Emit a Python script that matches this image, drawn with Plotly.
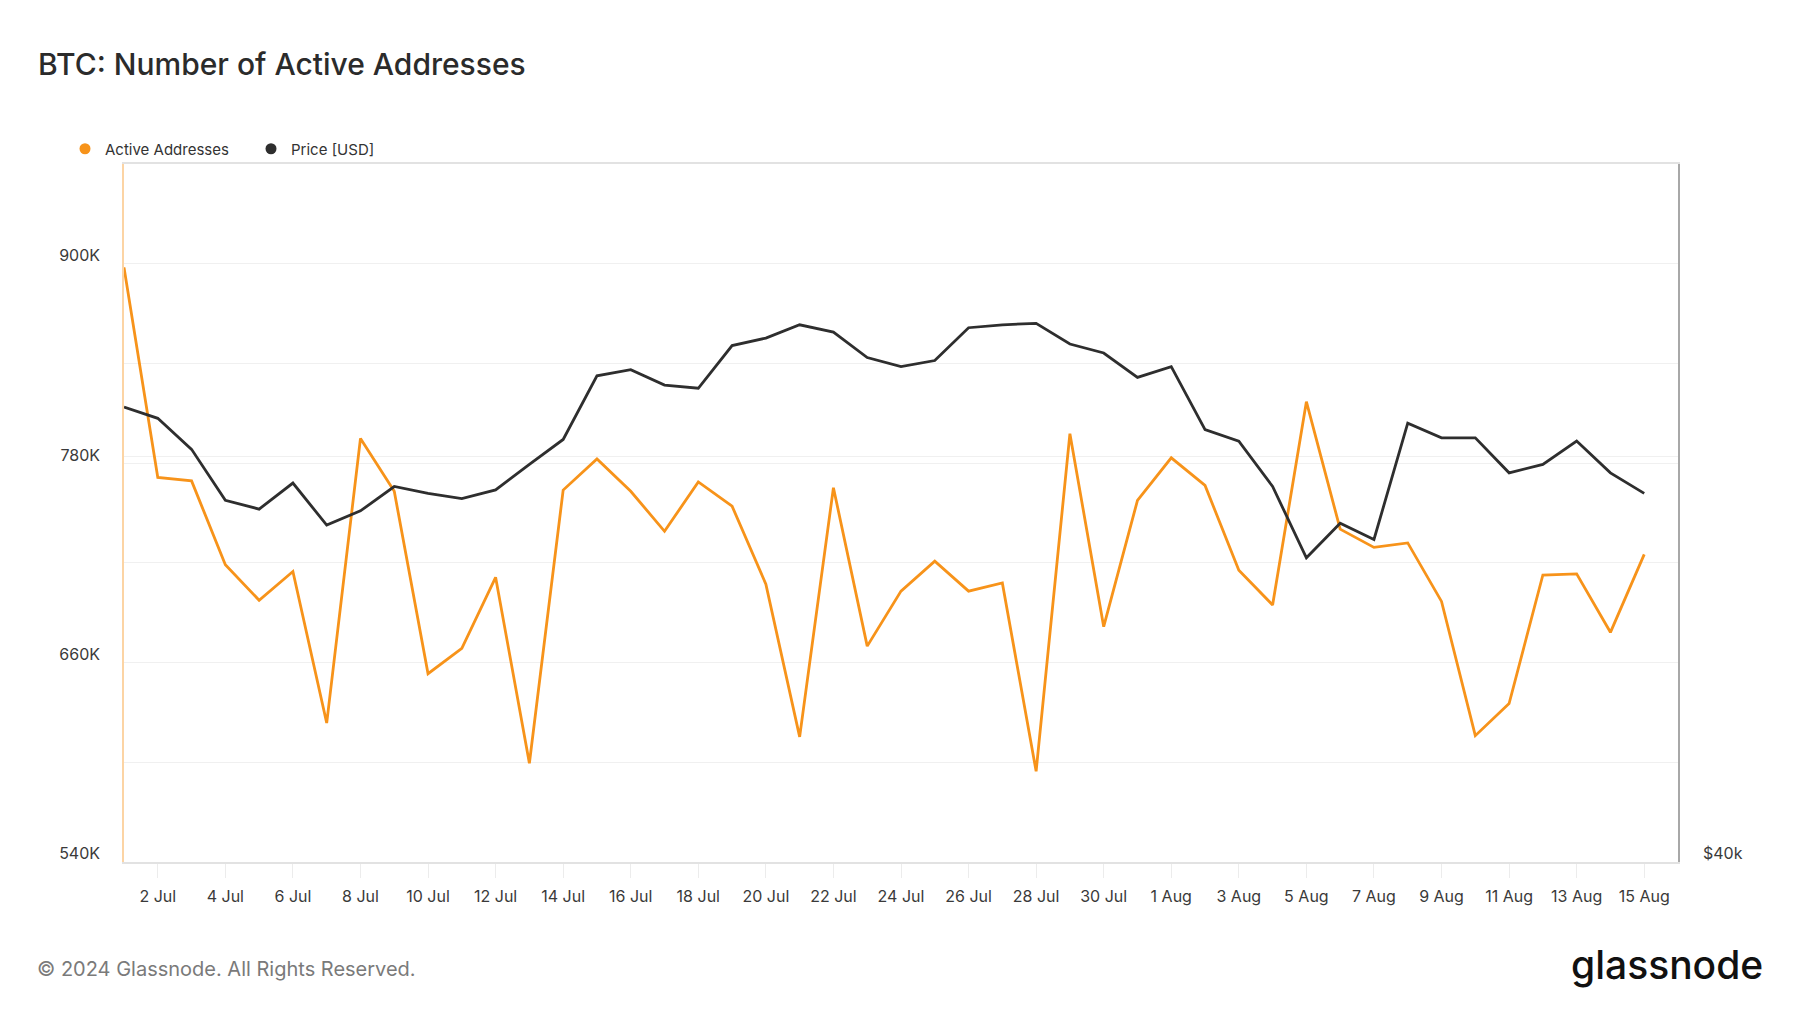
import plotly.graph_objects as go
import pandas as pd

dates = pd.date_range("2024-07-01", "2024-08-15", freq="D")

active_addresses = [
    897800, 771400, 769300, 718900, 697500, 714800, 623600, 794900, 763100, 653300,
    668500, 711300, 599400, 763800, 782500, 763100, 739000, 768700, 754100, 707200,
    615300, 765200, 669900, 703000, 721000, 703000, 707900, 594600, 797700, 681600,
    757600, 783200, 766600, 715500, 694700, 817000, 740300, 729300, 732000, 696800,
    616000, 635300, 712700, 713400, 678200, 725100,
]

price_usd = [
    63000, 62300, 60400, 57400, 56900, 58400, 56000, 56800, 58200, 57800,
    57500, 58000, 59500, 61000, 65000, 65400, 64400, 64200, 67000, 67500,
    68400, 67900, 66200, 65600, 66000, 68200, 68400, 68500, 67100, 66500,
    64900, 65600, 61600, 60900, 58200, 54200, 56100, 55200, 62000, 61100,
    61100, 59000, 59500, 60900, 59000, 57800,
]

left_tickvals = [540000, 600000, 660000, 720000, 780000, 840000, 900000]
left_ticktext = ["540K", "", "660K", "", "780K", "", "900K"]
right_tickvals = [40000, 60000]
right_ticktext = ["$40k", ""]

ORANGE = "#F7931A"
BLACK = "#2E2E2E"
FONT = "Inter"

fig = go.Figure()
fig.add_trace(go.Scatter(x=dates, y=active_addresses, mode="lines",
                         line=dict(color=ORANGE, width=2.8), yaxis="y",
                         showlegend=False, name="Active Addresses"))
fig.add_trace(go.Scatter(x=dates, y=price_usd, mode="lines",
                         line=dict(color=BLACK, width=2.8), yaxis="y2",
                         showlegend=False, name="Price [USD]"))
# legend entries (dots)
fig.add_trace(go.Scatter(x=[None], y=[None], mode="markers", name="Active Addresses",
                         marker=dict(color=ORANGE, size=11), showlegend=True))
fig.add_trace(go.Scatter(x=[None], y=[None], mode="markers", name="Price [USD]",
                         marker=dict(color=BLACK, size=11), showlegend=True))

fig.update_layout(
    width=1800, height=1013,
    margin=dict(l=124, r=122, t=164, b=151, autoexpand=False),
    paper_bgcolor="white", plot_bgcolor="white",
    font=dict(family=FONT, color="#3a3a3a", size=16),
    title=dict(text="BTC: Number of Active Addresses", x=38/1800, xanchor="left",
               y=1-64/1013, yanchor="middle", xref="container", yref="container",
               font=dict(family=FONT, size=30, color="#2b2b2b", weight=500)),
    legend=dict(orientation="h", xref="container", yref="container",
                x=65/1800, xanchor="left", y=1-149/1013, yanchor="middle",
                bgcolor="rgba(0,0,0,0)",
                font=dict(family=FONT, size=15, color="#333333"),
                entrywidth=141, entrywidthmode="pixels", itemwidth=30),
    xaxis=dict(type="date", range=["2024-07-01", "2024-08-16"],
               tick0="2024-07-02", dtick=2*86400000, tickformat="%-d %b",
               showgrid=False, showline=True, linecolor="#e2e2e2", linewidth=1.5,
               mirror=True, ticks="outside", ticklen=14, tickcolor="#ececec",
               tickwidth=1, ticklabelstandoff=5,
               tickfont=dict(family=FONT, size=16, color="#3a3a3a"), zeroline=False),
    yaxis=dict(range=[540000, 960000], tickvals=left_tickvals, ticktext=left_ticktext,
               showgrid=True, gridcolor="#f0f0f0", gridwidth=1,
               showline=True, linecolor="#FCD4A4", linewidth=1.5,
               ticks="", ticklabelposition="outside top", ticklabelstandoff=19,
               ticklabelshift=3,
               tickfont=dict(family=FONT, size=16, color="#3a3a3a"), zeroline=False),
    yaxis2=dict(type="log", range=[4.60206, 4.9048], overlaying="y", side="right",
                tickvals=right_tickvals, ticktext=right_ticktext,
                showgrid=True, gridcolor="#f0f0f0", gridwidth=1,
                showline=True, linecolor="#a8a8a8", linewidth=1.5,
                ticks="", ticklabelposition="outside top", ticklabelstandoff=20,
                ticklabelshift=3,
                tickfont=dict(family=FONT, size=16, color="#3a3a3a"), zeroline=False),
)

fig.add_annotation(text="© 2024 Glassnode. All Rights Reserved.", xref="paper", yref="paper",
                   x=(35-124)/1554, y=-(969-862)/698, xanchor="left", yanchor="middle",
                   showarrow=False, font=dict(family=FONT, size=20, color="#7a7a7a"))
fig.add_annotation(text="glassnode", xref="paper", yref="paper",
                   x=(1765-124)/1554, y=-(964-862)/698, xanchor="right", yanchor="middle",
                   showarrow=False, font=dict(family=FONT, size=39, color="#111111", weight=500))

fig.write_html("out.html")
